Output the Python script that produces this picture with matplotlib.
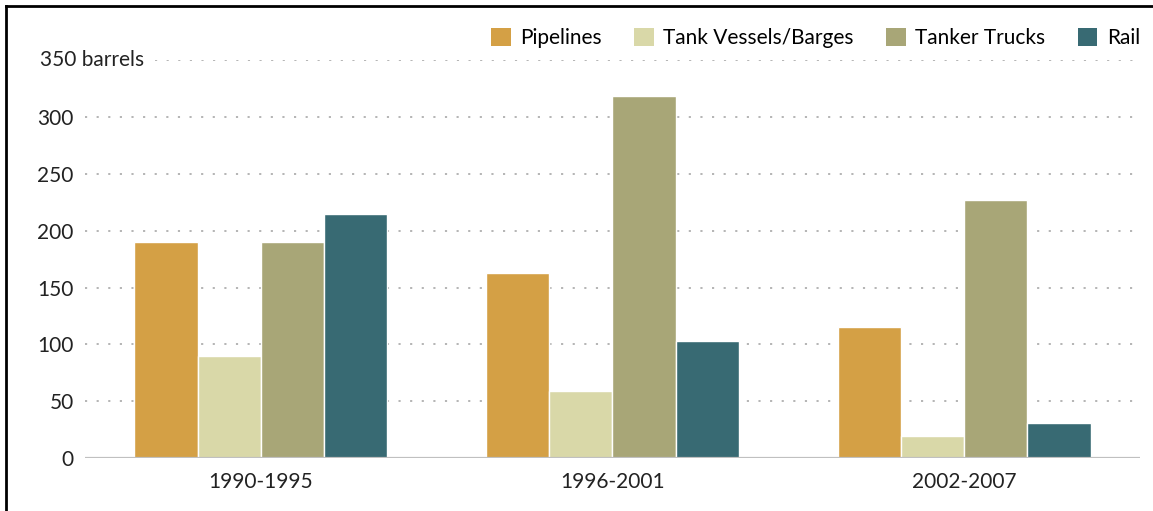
import numpy as np
import matplotlib.pyplot as plt
from matplotlib.lines import Line2D
from matplotlib.patches import Patch

plt.rcParams['font.family'] = ['Lato', 'DejaVu Sans']

periods = ['1990-1995', '1996-2001', '2002-2007']
modes = ['Pipelines', 'Tank Vessels/Barges', 'Tanker Trucks', 'Rail']
pipelines = [190, 163, 115]
tank_vessels = [90, 59, 19]
tanker_trucks = [190, 319, 227]
rail = [215, 103, 31]
colors = ['#d4a045', '#d9d8a8', '#a8a677', '#386a73']
yticks = [0, 50, 100, 150, 200, 250, 300]

fig = plt.figure(figsize=(11.53, 5.11), dpi=100)
ax = fig.add_axes([0.0737, 0.1037, 0.915, 0.778])

x = np.arange(len(periods))
w = 0.18
series = [pipelines, tank_vessels, tanker_trucks, rail]
for i, (vals, c) in enumerate(zip(series, colors)):
    ax.bar(x + (i - 1.5) * w, vals, width=w, color=c, edgecolor='white',
           linewidth=1, zorder=3)

# dotted gridlines
for yv in yticks[1:]:
    ax.axhline(yv, color='#a0a0a0', lw=1.1, ls=(0, (1.4, 6.2)), zorder=1)
ax.axhline(350, xmin=0.066, color='#a0a0a0', lw=1.1, ls=(0, (1.4, 6.2)), zorder=1)
ax.axhline(0, color='#c0c0c0', lw=1.6, zorder=4)

ax.set_xlim(-0.5, 2.5)
ax.set_ylim(0, 350)
ax.set_yticks(yticks)
ax.set_yticklabels([str(v) for v in yticks], fontsize=15, color='#222222')
ax.set_xticks(x)
ax.set_xticklabels(periods, fontsize=15, color='#222222')
ax.tick_params(axis='both', length=0)
ax.tick_params(axis='y', pad=8)
ax.tick_params(axis='x', pad=10)
for s in ax.spines.values():
    s.set_visible(False)

ax.text(-0.0427, 350, '350 barrels', transform=ax.get_yaxis_transform(),
        ha='left', va='center', fontsize=15, color='#222222')

handles = [Patch(facecolor=c, edgecolor='none') for c in colors]
fig.legend(handles, modes, loc='center right', bbox_to_anchor=(0.996, 0.925),
           ncol=4, frameon=False, fontsize=15, handlelength=0.95,
           handleheight=0.95, handletextpad=0.45, columnspacing=1.55,
           borderaxespad=0)

# frame lines at left and top of the figure
fig.add_artist(Line2D([6 / 1153, 6 / 1153], [0, 1 - 6 / 511], color='black',
                      lw=2, transform=fig.transFigure))
fig.add_artist(Line2D([6 / 1153, 1], [1 - 6 / 511, 1 - 6 / 511], color='black',
                      lw=2, transform=fig.transFigure))

fig.savefig('out.png', dpi=100)
